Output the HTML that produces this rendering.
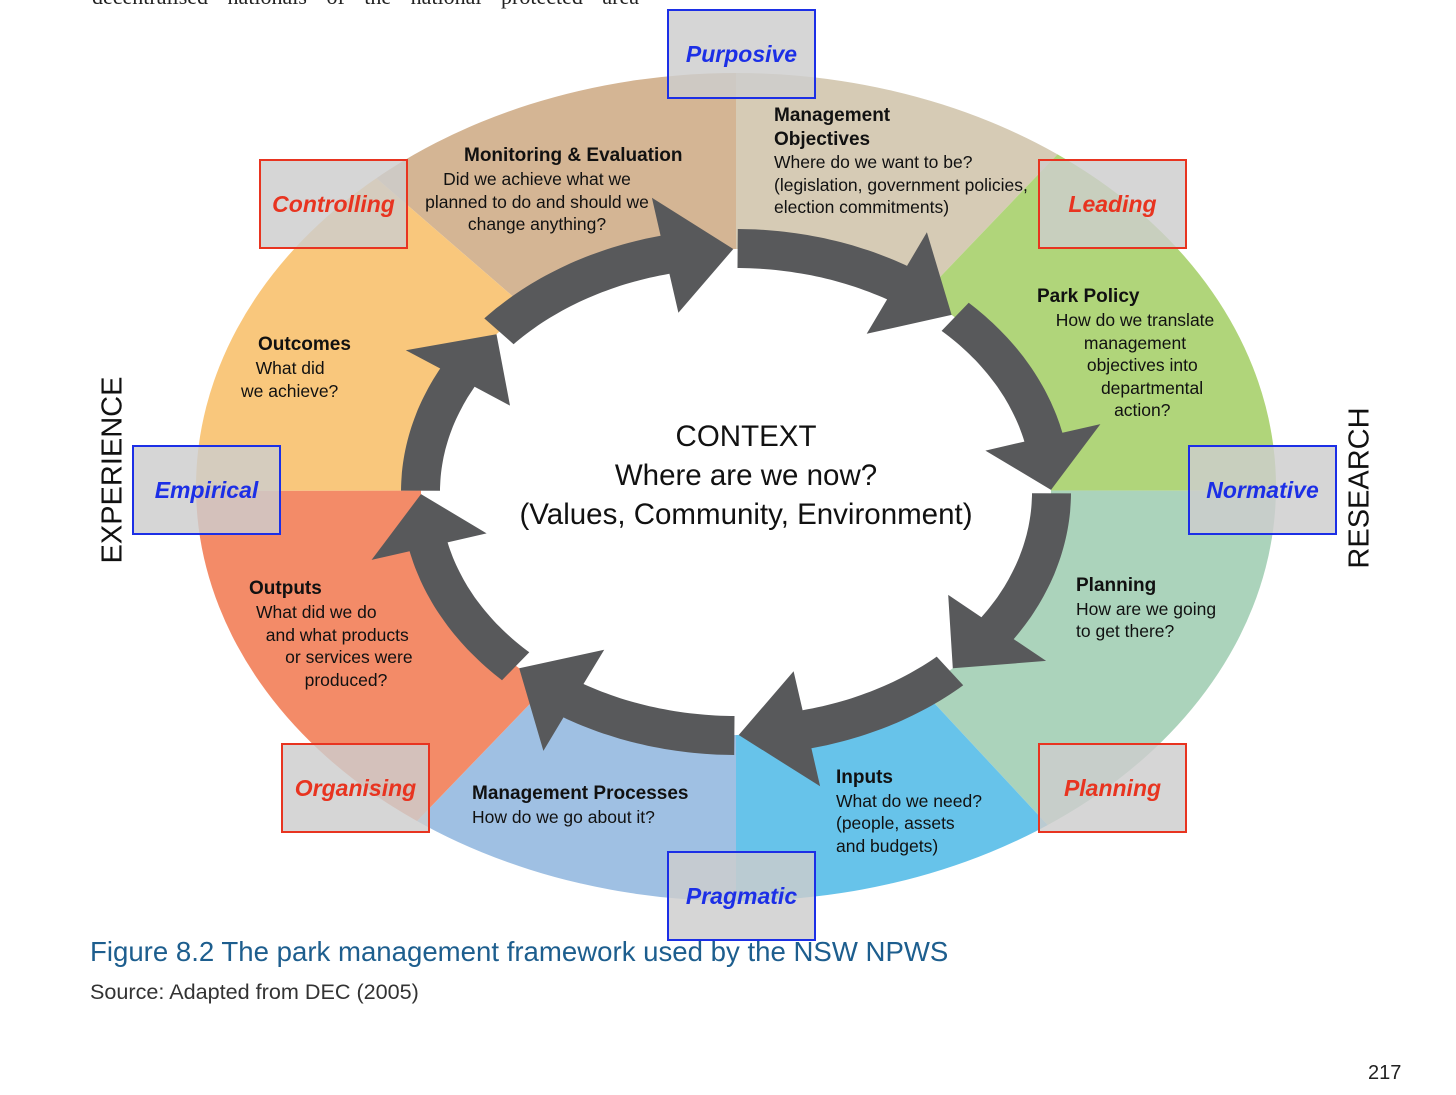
<!DOCTYPE html>
<html><head><meta charset="utf-8"><style>
html,body{margin:0;width:1456px;height:1095px;overflow:hidden}
body{background:#fff;position:relative;font-family:"Liberation Sans",sans-serif}
.t{position:absolute;font-size:17.5px;color:#111;line-height:22.5px;white-space:nowrap}
.t b{font-size:19px}
.box{position:absolute;width:145px;height:86px;border:2px solid;background:rgba(205,205,205,0.82);display:flex;align-items:center;justify-content:center;font-style:italic;font-weight:bold;font-size:23px}
.bl{border-color:#1c2fe6;color:#1c2fe6}.rd{border-color:#e83420;color:#e83420}
</style></head><body>
<div style="position:absolute;left:92px;top:-16px;font-family:'Liberation Serif',serif;font-size:22px;word-spacing:14px;color:#222">decentralised nationals of the national protected area</div>
<svg width="1456" height="1095" style="position:absolute;left:0;top:0">
<defs><clipPath id="c"><ellipse cx="736" cy="487" rx="540" ry="414"/></clipPath></defs>
<g clip-path="url(#c)" id="seg"></g>
<ellipse cx="736" cy="492" rx="315" ry="243" fill="#fff"/>
<g id="arr" fill="#58595b"></g>
</svg>
<script>
var cx=736,cy=490,R=1200;
var segs=[[-139,-90,'#d4b594'],[-90,-46.3,'#d6cbb5'],[-46.3,0,'#b0d57a'],[0,47,'#abd3bb'],[47,90,'#67c3ea'],[90,134,'#9fc0e3'],[134,180,'#f38b68'],[180,221,'#f9c77c']];
function P(t,rx,ry){t=t*Math.PI/180;return [(cx+rx*Math.cos(t)).toFixed(1),(492+ry*Math.sin(t)).toFixed(1)];}
var s='';
segs.forEach(function(g){var a=P(g[0],R,R),b=P(g[1],R,R),m=P((g[0]+g[1])/2,R*1.5,R*1.5);
s+='<polygon fill="'+g[2]+'" points="'+cx+','+cy+' '+a+' '+m+' '+b+'"/>';});
document.getElementById('seg').innerHTML=s;
var bs=[-90,-46.3,0,47,90,134,180,221],a='';
for(var i=0;i<8;i++){var t0=bs[i],t1=(i<7?bs[i+1]:270);
var st=t0+0.3,hb=t1-13,tip=t1-0.5,pts=[];
for(var t=st;t<=hb;t+=1)pts.push(P(t,335,263));
pts.push(P(hb,335,263),P(hb,374,302),P(tip,315,243),P(hb,256,184),P(hb,296,224));
for(var t=hb;t>=st;t-=1)pts.push(P(t,296,224));
pts.push(P(st,296,224));
a+='<polygon points="'+pts.join(' ')+'"/>';}
document.getElementById('arr').innerHTML=a;
</script>
<div class="t" style="left:464px;top:144px"><b>Monitoring &amp; Evaluation</b></div>
<div class="t" style="left:412px;top:168px;text-align:center;width:250px">Did we achieve what we<br>planned to do and should we<br>change anything?</div>
<div class="t" style="left:774px;top:104px"><b>Management<br>Objectives</b><br>Where do we want to be?<br>(legislation, government policies,<br>election commitments)</div>
<div class="t" style="left:1037px;top:285px"><b>Park Policy</b></div>
<div class="t" style="left:1045px;top:309px;text-align:center;width:180px">How do we translate<br>management<br>&nbsp;&nbsp;&nbsp;objectives into<br>&nbsp;&nbsp;&nbsp;&nbsp;&nbsp;&nbsp;&nbsp;departmental<br>&nbsp;&nbsp;&nbsp;action?</div>
<div class="t" style="left:1076px;top:574px"><b>Planning</b><br>How are we going<br>to get there?</div>
<div class="t" style="left:836px;top:766px"><b>Inputs</b><br>What do we need?<br>(people, assets<br>and budgets)</div>
<div class="t" style="left:472px;top:782px"><b>Management Processes</b><br>How do we go about it?</div>
<div class="t" style="left:249px;top:577px"><b>Outputs</b></div>
<div class="t" style="left:256px;top:601px;line-height:22.5px">What did we do<br>&nbsp;&nbsp;and what products<br>&nbsp;&nbsp;&nbsp;&nbsp;&nbsp;&nbsp;or services were<br>&nbsp;&nbsp;&nbsp;&nbsp;&nbsp;&nbsp;&nbsp;&nbsp;&nbsp;&nbsp;produced?</div>
<div class="t" style="left:258px;top:333px"><b>Outcomes</b></div>
<div class="t" style="left:241px;top:357px">&nbsp;&nbsp;&nbsp;What did<br>we achieve?</div>
<div style="position:absolute;left:496px;top:417px;width:500px;text-align:center;font-size:29.5px;line-height:39px;color:#111">CONTEXT<br>Where are we now?<br>(Values, Community, Environment)</div>
<div style="position:absolute;left:113px;top:470px;transform:translate(-50%,-50%) rotate(-90deg);font-size:29px;color:#111">EXPERIENCE</div>
<div style="position:absolute;left:1360px;top:488px;transform:translate(-50%,-50%) rotate(-90deg);font-size:29px;color:#111">RESEARCH</div>
<div class="box bl" style="left:667px;top:9px">Purposive</div>
<div class="box rd" style="left:259px;top:159px">Controlling</div>
<div class="box rd" style="left:1038px;top:159px">Leading</div>
<div class="box bl" style="left:132px;top:445px">Empirical</div>
<div class="box bl" style="left:1188px;top:445px">Normative</div>
<div class="box rd" style="left:281px;top:743px">Organising</div>
<div class="box rd" style="left:1038px;top:743px">Planning</div>
<div class="box bl" style="left:667px;top:851px">Pragmatic</div>
<div style="position:absolute;left:90px;top:936px;font-size:27.6px;color:#1d5e8e">Figure 8.2 The park management framework used by the NSW NPWS</div>
<div style="position:absolute;left:90px;top:979px;font-size:21.6px;color:#333">Source: Adapted from DEC (2005)</div>
<div style="position:absolute;left:1368px;top:1062px;font-size:20px;color:#222">217</div>
</body></html>
